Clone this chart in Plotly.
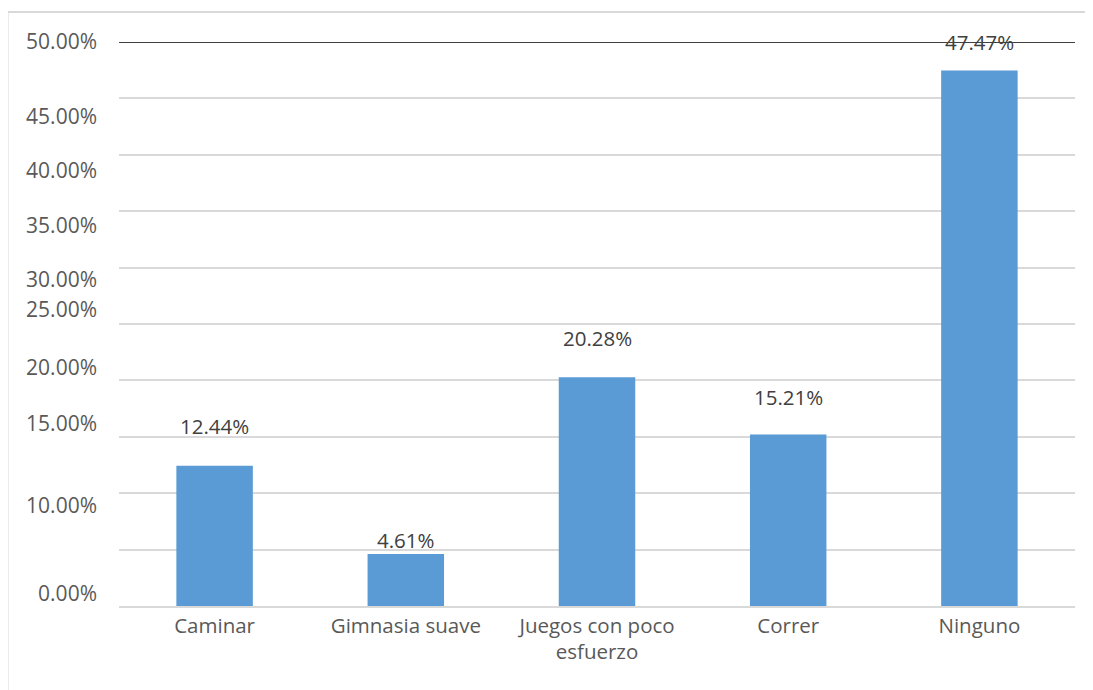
import plotly.graph_objects as go

categories = ["Caminar", "Gimnasia suave", "Juegos con poco<br>esfuerzo", "Correr", "Ninguno"]
values = [12.44, 4.61, 20.28, 15.21, 47.47]
value_labels = ["12.44%", "4.61%", "20.28%", "15.21%", "47.47%"]
# where each data label sits (in % units)
label_y = [15.97, 5.87, 23.73, 18.56, 50.0]

grid_vals = [0, 5, 10, 15, 20, 25, 30, 35, 40, 45]
tick_text = ["50.00%", "45.00%", "40.00%", "35.00%", "30.00%", "25.00%",
             "20.00%", "15.00%", "10.00%", "0.00%"]
tick_pos = [50.0, 43.36, 38.57, 33.70, 28.96, 26.24, 21.13, 16.21, 8.88, 1.09]

FONT = "Open Sans"

fig = go.Figure()
fig.add_trace(go.Bar(x=categories, y=values, marker_color="#5B9BD5",
                     marker_line_width=0, hoverinfo="skip"))
# invisible trace to anchor the label axis
fig.add_trace(go.Scatter(x=categories, y=values, yaxis="y2", mode="markers",
                         marker_opacity=0, showlegend=False, hoverinfo="skip"))

for c, ly, t in zip(categories, label_y, value_labels):
    fig.add_annotation(x=c, y=ly, text=t, showarrow=False, yanchor="middle",
                       font=dict(family=FONT, size=20.5, color="#404040"))

fig.add_shape(type="line", xref="paper", yref="y", x0=0, x1=1, y0=50, y1=50,
              line=dict(color="#404040", width=2))
# outer frame (left and top edges)
fig.add_shape(type="line", xref="paper", yref="paper", x0=-0.1166, x1=-0.1166,
              y0=-0.2, y1=1.053, line=dict(color="#D9D9D9", width=2))
fig.add_shape(type="line", xref="paper", yref="paper", x0=-0.1166, x1=1.05,
              y0=1.053, y1=1.053, line=dict(color="#D9D9D9", width=2))

fig.update_layout(
    width=1093, height=690,
    margin=dict(l=111, r=26, t=34, b=92),
    paper_bgcolor="white", plot_bgcolor="white",
    showlegend=False, bargap=0.6,
    font=dict(family=FONT, size=20.5, color="#595959"),
    xaxis=dict(showgrid=False, showline=True, linecolor="#D9D9D9", linewidth=2,
               ticks="", tickfont=dict(family=FONT, size=20.5, color="#595959")),
    yaxis=dict(range=[0, 50], tickvals=grid_vals, showticklabels=False,
               showgrid=True, gridcolor="#D9D9D9", gridwidth=2, zeroline=False,
               ticks=""),
    yaxis2=dict(range=[0, 50], overlaying="y", side="left", tickvals=tick_pos,
                ticktext=tick_text, showgrid=False, zeroline=False, ticks="",
                ticklabelstandoff=21,
                tickfont=dict(family=FONT, size=21, color="#595959")),
)

fig.write_html("out.html")
